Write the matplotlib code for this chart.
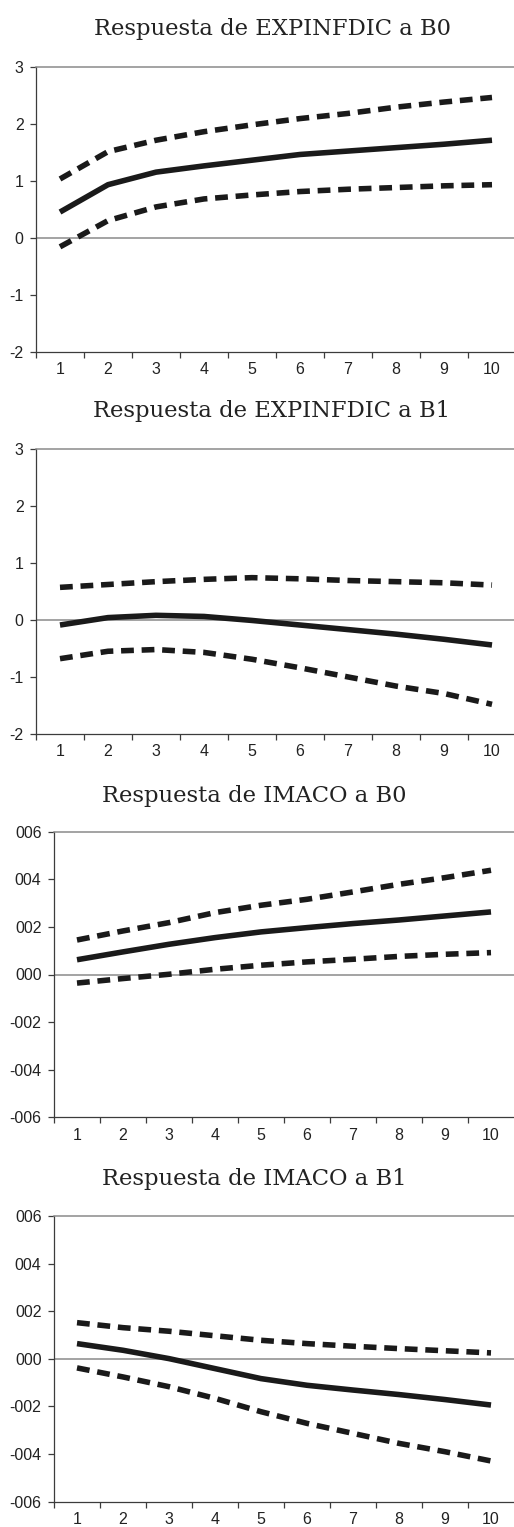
"""Impulse responses of EXPINFDIC and IMACO to B0 / B1 shocks with confidence bands."""

import matplotlib
matplotlib.use('Agg')
import matplotlib.pyplot as plt
from matplotlib.ticker import FixedLocator

W, H, DPI = 514, 1527, 100

PERIODS = [1, 2, 3, 4, 5, 6, 7, 8, 9, 10]

# EXPINFDIC responses
exp_b0_mid = [0.45, 0.93, 1.15, 1.26, 1.36, 1.46, 1.52, 1.58, 1.64, 1.71]
exp_b0_up = [1.03, 1.51, 1.71, 1.86, 1.98, 2.09, 2.18, 2.29, 2.38, 2.46]
exp_b0_lo = [-0.16, 0.30, 0.54, 0.68, 0.75, 0.81, 0.85, 0.88, 0.91, 0.93]

exp_b1_mid = [-0.09, 0.04, 0.08, 0.06, -0.01, -0.09, -0.17, -0.25, -0.34, -0.44]
exp_b1_up = [0.57, 0.62, 0.67, 0.71, 0.74, 0.72, 0.69, 0.67, 0.65, 0.61]
exp_b1_lo = [-0.68, -0.55, -0.52, -0.57, -0.69, -0.84, -1.00, -1.16, -1.29, -1.48]

# IMACO responses
ima_b0_mid = [0.00062, 0.00095, 0.00127, 0.00155, 0.00179, 0.00197, 0.00214, 0.00229, 0.00246, 0.00263]
ima_b0_up = [0.00145, 0.00183, 0.00218, 0.00260, 0.00291, 0.00316, 0.00347, 0.00379, 0.00407, 0.00438]
ima_b0_lo = [-0.00036, -0.00017, 0.00001, 0.00022, 0.00039, 0.00053, 0.00064, 0.00076, 0.00085, 0.00092]

ima_b1_mid = [0.00064, 0.00036, 0.00001, -0.00041, -0.00083, -0.00111, -0.00131, -0.00150, -0.00171, -0.00194]
ima_b1_up = [0.00152, 0.00131, 0.00116, 0.00097, 0.00078, 0.00064, 0.00053, 0.00043, 0.00034, 0.00025]
ima_b1_lo = [-0.00038, -0.00076, -0.00117, -0.00166, -0.00222, -0.00271, -0.00313, -0.00355, -0.00390, -0.00429]

EXP_TICKS = [-2, -1, 0, 1, 2, 3]
EXP_LABELS = ['-2', '-1', '0', '1', '2', '3']
IMA_TICKS = [-0.006, -0.004, -0.002, 0.0, 0.002, 0.004, 0.006]
IMA_LABELS = ['-006', '-004', '-002', '000', '002', '004', '006']

TITLES = ['Respuesta de EXPINFDIC a B0', 'Respuesta de EXPINFDIC a B1',
          'Respuesta de IMACO a B0', 'Respuesta de IMACO a B1']

INK = '#1a1a1a'
GRAY = '#8a8a8a'
SPINE = '#3c3c3c'

fig = plt.figure(figsize=(W / DPI, H / DPI), dpi=DPI, facecolor='white')


def px_axes(left, top, right, bottom):
    return fig.add_axes([left / W, 1 - bottom / H, (right - left) / W, (bottom - top) / H])


def draw_panel(ax, mid, up, lo, ticks, labels):
    lw = 4.0
    for band in (up, lo):
        ax.plot(PERIODS, band, color=INK, lw=lw, dashes=(2.3, 1.4),
                dash_capstyle='butt', dash_joinstyle='round', zorder=3)
    ax.plot(PERIODS, mid, color=INK, lw=lw, solid_capstyle='butt',
            solid_joinstyle='round', zorder=4)
    ax.axhline(0, color=GRAY, lw=1.1, zorder=2)

    ax.set_xlim(0.5, 10.5)
    ax.set_ylim(ticks[0], ticks[-1])
    ax.set_yticks(ticks)
    ax.set_yticklabels(labels)
    ax.set_xticks(PERIODS)
    ax.set_xticklabels([str(p) for p in PERIODS])
    ax.xaxis.set_minor_locator(FixedLocator([p - 0.5 for p in PERIODS]))

    ax.tick_params(axis='x', which='major', length=0, pad=7.5, labelsize=11.5, colors='#222222')
    ax.tick_params(axis='x', which='minor', length=4, width=0.9, color=SPINE, direction='out')
    ax.tick_params(axis='y', length=4, width=0.9, color=SPINE, pad=5, labelsize=11.5,
                   labelcolor='#222222')
    for lab in ax.get_xticklabels() + ax.get_yticklabels():
        lab.set_fontfamily('Liberation Sans')

    ax.spines['right'].set_visible(False)
    ax.spines['top'].set_color(GRAY)
    ax.spines['top'].set_linewidth(1.1)
    for s in ('left', 'bottom'):
        ax.spines[s].set_color(SPINE)
        ax.spines[s].set_linewidth(0.9)


panels = [
    ((36, 66.7, 516, 351.7), exp_b0_mid, exp_b0_up, exp_b0_lo, EXP_TICKS, EXP_LABELS),
    ((36, 448.7, 516, 734), exp_b1_mid, exp_b1_up, exp_b1_lo, EXP_TICKS, EXP_LABELS),
    ((54, 831.7, 514, 1117.3), ima_b0_mid, ima_b0_up, ima_b0_lo, IMA_TICKS, IMA_LABELS),
    ((54, 1216, 514, 1501.7), ima_b1_mid, ima_b1_up, ima_b1_lo, IMA_TICKS, IMA_LABELS),
]

title_pos = [(272, 35), (272, 417), (254, 802), (254, 1185)]

for (box, mid, up, lo, ticks, labels), title, (tx, ty) in zip(panels, TITLES, title_pos):
    ax = px_axes(*box)
    draw_panel(ax, mid, up, lo, ticks, labels)
    fig.text(tx / W, 1 - ty / H, title, ha='center', va='baseline',
             fontsize=16.3, family='DejaVu Serif', color='#222222')

fig.savefig('out.png', dpi=DPI, facecolor='white')
